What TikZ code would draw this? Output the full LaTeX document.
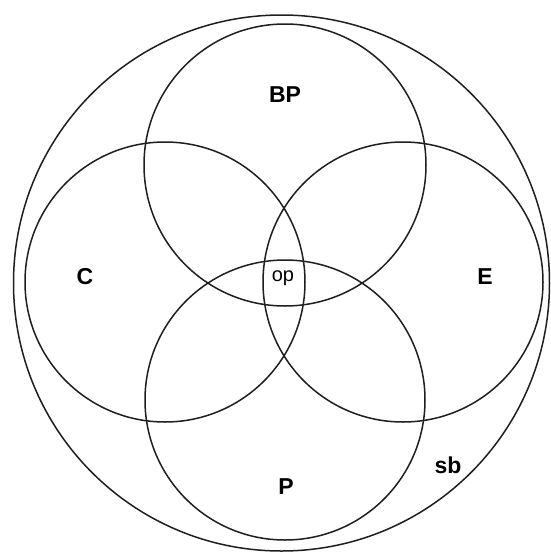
\documentclass[tikz,border=0pt]{standalone}
\usepackage{fontspec}
\setmainfont{Liberation Sans}
\begin{document}
\begin{tikzpicture}[x=1pt,y=-1pt,
  ring/.style={draw=black!88,line width=1.5pt},
  setlabel/.style={font=\fontsize{23}{23}\selectfont\bfseries,inner sep=0pt},
  oplabel/.style={font=\fontsize{20}{20}\selectfont,inner sep=0pt}]
\useasboundingbox (0,0) rectangle (550,555);
\fill[white] (0,0) rectangle (550,555);
\draw[ring] (281.5,283) circle[radius=268];
\draw[ring] (285,165) circle[radius=141];
\draw[ring] (165,282) circle[radius=140];
\draw[ring] (403,282) circle[radius=140];
\draw[ring] (285,400) circle[radius=140];
\node[setlabel] (bp) at (285,95) {BP};
\node[setlabel] (c) at (85,277) {C};
\node[setlabel] (e) at (485,277) {E};
\node[setlabel] (p) at (286,487) {P};
\node[setlabel] (sb) at (448,465) {sb};
\node[oplabel] (op) at (283,278) {op};
\end{tikzpicture}
\end{document}
